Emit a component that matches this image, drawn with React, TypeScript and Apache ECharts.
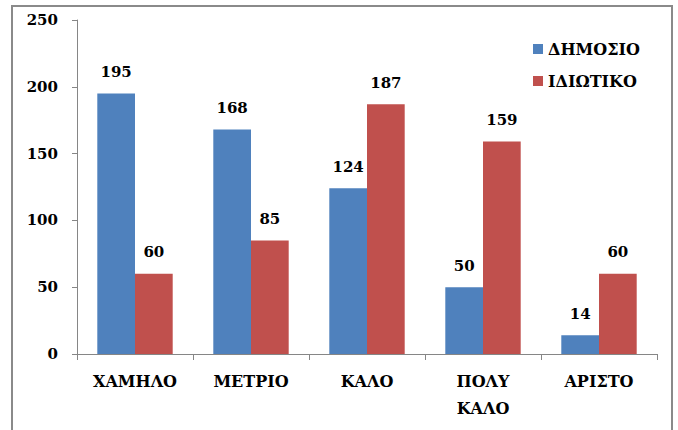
import React, { useEffect, useRef } from "react";
import * as echarts from "echarts";

const categories = ["ΧΑΜΗΛΟ", "ΜΕΤΡΙΟ", "ΚΑΛΟ", "ΠΟΛΥ\nΚΑΛΟ", "ΑΡΙΣΤΟ"];
const publicValues = [195, 168, 124, 50, 14];
const privateValues = [60, 85, 187, 159, 60];
const seriesNames = ["ΔΗΜΟΣΙΟ", "ΙΔΙΩΤΙΚΟ"];

const FONT = "DejaVu Serif";

export default function App() {
  const ref = useRef<HTMLDivElement>(null);
  useEffect(() => {
    if (!ref.current) return;
    const chart = echarts.init(ref.current, null, { renderer: "svg" });
    const labelStyle = {
      show: true,
      position: "top" as const,
      distance: 14,
      fontFamily: FONT,
      fontWeight: "bold" as const,
      fontSize: 15,
      color: "#000",
    };
    chart.setOption({
      animation: false,
      backgroundColor: "#fff",
      textStyle: { fontFamily: FONT },
      graphic: [
        {
          type: "rect",
          shape: { x: 12, y: 6, width: 660, height: 440 },
          style: { fill: "none", stroke: "#8a8a8a", lineWidth: 2 },
          silent: true,
        },
      ],
      legend: {
        orient: "vertical",
        left: 528,
        top: 36,
        itemWidth: 10,
        itemHeight: 10,
        itemGap: 16,
        icon: "rect",
        textStyle: { fontFamily: FONT, fontWeight: "bold", fontSize: 16, color: "#000" },
        data: seriesNames,
      },
      grid: { left: 77, right: 21, top: 20, bottom: 76 },
      xAxis: {
        type: "category",
        data: categories,
        axisLine: { lineStyle: { color: "#868686", width: 1 } },
        axisTick: { show: true, length: 6, lineStyle: { color: "#868686" } },
        axisLabel: {
          margin: 14,
          fontFamily: FONT,
          fontWeight: "bold",
          fontSize: 16,
          color: "#000",
          lineHeight: 27,
          interval: 0,
        },
      },
      yAxis: {
        type: "value",
        min: 0,
        max: 250,
        interval: 50,
        axisLine: { show: true, lineStyle: { color: "#868686", width: 1 } },
        axisTick: { show: true, length: 5, lineStyle: { color: "#868686" } },
        splitLine: { show: false },
        axisLabel: {
          margin: 19,
          fontFamily: FONT,
          fontWeight: "bold",
          fontSize: 15,
          color: "#000",
        },
      },
      series: [
        {
          name: seriesNames[0],
          type: "bar",
          data: publicValues,
          itemStyle: { color: "#4F81BD" },
          barGap: "0%",
          barCategoryGap: "35%",
          label: labelStyle,
        },
        {
          name: seriesNames[1],
          type: "bar",
          data: privateValues,
          itemStyle: { color: "#C0504D" },
          barGap: "0%",
          barCategoryGap: "35%",
          label: labelStyle,
        },
      ],
    });
    return () => chart.dispose();
  }, []);
  return (
    <div
      ref={ref}
      style={{ position: "fixed", left: 0, top: 0, width: 678, height: 430 }}
    />
  );
}
